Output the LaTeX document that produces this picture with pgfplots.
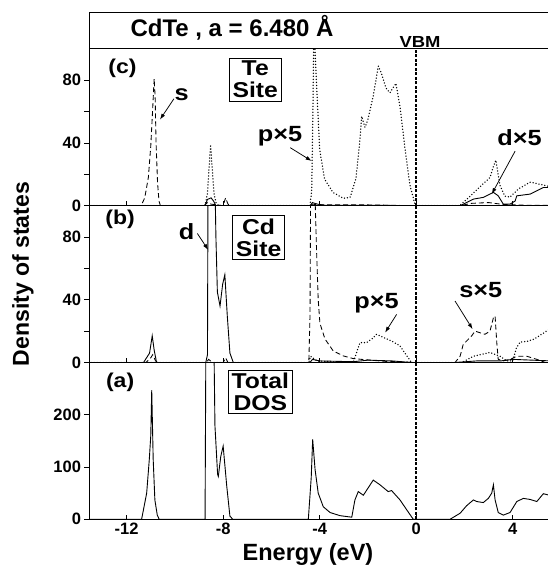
\documentclass[border=0pt]{standalone}
\usepackage{pgfplots}
\pgfplotsset{compat=1.18}
\usepackage{fontspec}
\setmainfont{Liberation Sans}
\newfontfamily\wide{Liberation Sans}[FakeStretch=1.15]
\usetikzlibrary{arrows.meta}
\newcommand{\fs}[1]{\fontsize{#1}{#1}\selectfont\bfseries}
\newcommand{\fw}[1]{\wide\fontsize{#1}{#1}\selectfont\bfseries}
\newcommand{\fww}[2]{\wide\fontsize{#1}{#2}\selectfont\bfseries}
\tikzset{
 sline/.style={black, line width=0.85pt, dash pattern=on 5pt off 3pt},
 pline/.style={black, line width=1.5pt, dash pattern=on 0pt off 3pt, line cap=round},
 dline/.style={black, line width=0.9pt},
 vbm/.style={black, line width=1.5pt, dash pattern=on 3pt off 1.5pt},
 arr/.style={-{Latex[length=6pt,width=4pt]}, line width=0.75pt},
 boxl/.style={draw, line width=0.9pt, align=center, font=\fww{21.5}{22}, inner xsep=3.5pt, inner ysep=3pt, fill=white},
}
\pgfplotsset{
 dosaxis/.style={
  scale only axis, width=460.5pt, height=156.8pt,
  xmin=-13.56, xmax=5.525,
  xtick={-12,-8,-4,0,4},
  xtick align=inside, ytick align=outside,
  xtick pos=left, ytick pos=left,
  major tick length=4.5pt, minor tick length=4.5pt,
  axis line style={line width=0.9pt},
  every tick/.style={line width=0.8pt, black},
  /pgf/number format/assume math mode=true,
  ticklabel style={font=\fs{16.5}},
  anchor=south west,
 },
}
\begin{document}
\begin{tikzpicture}
\useasboundingbox (0,0) rectangle (548pt,566pt);
% ---------- (a) Total DOS
\begin{axis}[dosaxis, at={(89pt,46.7pt)}, ymin=0, ymax=300, ytick={0,100,200}]
\addplot[dline] coordinates {(-13.6,0)(-11.38,0)(-11.17,50)(-11.06,115)(-11.0,160)(-10.96,247)(-10.9,115)(-10.83,37)(-10.73,8)(-10.65,0)(-8.75,0)(-8.71,400)(-8.6,450)(-8.4,400)(-8.34,179)(-8.23,86)(-8.2,82)(-8.1,120)(-8.0,140)(-7.85,63)(-7.72,6)(-7.6,0)(-4.47,0)(-4.35,80)(-4.29,153)(-4.19,95)(-4.06,50)(-3.85,24)(-3.57,13)(-3.16,7)(-2.67,4)(-2.54,37)(-2.4,53)(-2.19,46)(-1.78,75)(-1.5,66)(-1.16,53)(-1.02,55)(-0.67,37)(-0.39,18)(-0.12,0)(1.4,0)(1.82,11.6)(2.09,26)(2.37,37)(2.51,34)(2.78,32)(2.99,40)(3.13,50)(3.2,66)(3.27,37)(3.4,13)(3.61,8)(3.89,13)(4.17,34)(4.44,40)(4.72,38)(5.0,34)(5.27,49)(5.6,45)};
\addplot[vbm] coordinates {(0,0)(0,300)};
\node[font=\fw{20}] at (axis cs:-12.27,263) {(a)};
\node[boxl] at (axis cs:-6.46,243.7) {Total\\DOS};
\end{axis}
% ---------- (b) Cd site
\begin{axis}[dosaxis, at={(89pt,203.5pt)}, ymin=0, ymax=100, ytick={0,40,80}, minor ytick={20,60}, xticklabels={}]
\addplot[dline] coordinates {(-13.6,0)(-11.3,0)(-11.05,6)(-10.94,17)(-10.86,8)(-10.76,0)(-8.72,0)(-8.65,5)(-8.62,150)(-8.5,160)(-8.38,150)(-8.3,80)(-8.24,45)(-8.13,36)(-8.02,50)(-7.93,56)(-7.83,30)(-7.72,6)(-7.58,0)(-4.4,0)(-4.3,2)(-4.0,1)(-2.6,0.5)(-2.0,1.5)(-1.0,1)(-0.2,0)(0,0)(1.6,0)(2.5,1)(3.5,1)(4.0,2)(5.6,1)};
\addplot[sline] coordinates {(-13.6,0)(-11.2,0)(-11.0,3)(-10.92,5)(-10.8,1)(-10.7,0)(-8.7,0)(-8.6,2)(-8.45,0)(-8.0,0)(-7.9,3)(-7.8,0)(-4.45,0)(-4.4,30)(-4.36,160)(-4.27,160)(-4.2,110)(-4.13,72)(-4.06,40)(-3.99,25)(-3.78,15)(-3.44,7.4)(-3.02,4.2)(-2.61,2.5)(-2.05,1.7)(-1.36,0.8)(-0.5,0.3)(0,0)(1.61,0)(1.82,4)(1.95,11.6)(2.09,13.7)(2.3,17)(2.44,20)(2.64,19)(2.85,18)(3.06,20)(3.2,28.6)(3.27,29.6)(3.34,12.7)(3.4,2)(3.6,1)(3.9,2)(4.17,4)(4.58,4)(5.0,2)(5.35,0)(5.6,0)};
\addplot[pline] coordinates {(-13.6,0)(-4.45,0)(-4.38,4)(-4.3,3)(-4.1,1)(-3.5,0.5)(-2.61,0)(-2.47,6.4)(-2.33,12.7)(-2.05,12.7)(-1.84,15)(-1.64,18)(-1.36,16)(-1.02,13.7)(-0.67,10.6)(-0.39,4.2)(-0.19,0)(1.9,0)(2.37,4)(3.06,6.4)(3.47,4)(3.75,1)(4.0,1)(4.15,9)(4.3,13)(4.6,13.5)(4.9,15)(5.2,18)(5.6,22)};
\addplot[vbm] coordinates {(0,0)(0,100)};
\node[font=\fw{20}] at (axis cs:-12.27,91) {(b)};
\node[boxl] at (axis cs:-6.53,79.7) {Cd\\Site};
\node[font=\fw{22}] at (axis cs:-9.51,83.5) {d};
\draw[arr] (axis cs:-9.07,82.3) -- (axis cs:-8.62,71.8);
\node[font=\fw{22}] at (axis cs:-1.64,38) {p×5};
\draw[arr] (axis cs:-0.81,30.7) -- (axis cs:-1.29,19);
\node[font=\fw{22}] at (axis cs:2.68,46.3) {s×5};
\draw[arr] (axis cs:1.61,39.2) -- (axis cs:2.34,21.2);
\end{axis}
% ---------- (c) Te site
\begin{axis}[dosaxis, at={(89pt,360.3pt)}, ymin=0, ymax=100, ytick={0,40,80}, minor ytick={20,60}, xticklabels={}]
\addplot[dline] coordinates {(-13.6,0)(-8.75,0)(-8.65,4)(-8.5,5)(-8.4,3)(-8.3,0)(-4.4,0)(-4.3,2)(-4.1,1)(-3.8,0.3)(-2,0.3)(0,0)(1.82,0)(2.37,4.2)(2.78,5.3)(3.06,7.4)(3.2,8.5)(3.4,6.3)(3.61,1)(3.89,1)(4.1,3)(4.17,6.3)(4.72,7.4)(5.27,11.6)(5.6,11.6)};
\addplot[sline] coordinates {(-13.6,0)(-11.4,0)(-11.25,5)(-11.1,18)(-11.0,38)(-10.92,62)(-10.86,81)(-10.82,70)(-10.78,40)(-10.72,15)(-10.66,3)(-10.6,0)(-8.8,0)(-8.65,2)(-8.5,1)(-8.0,0)(-7.9,5)(-7.8,1)(-7.7,0)(-4.4,0)(-4.3,1)(-4.0,0.5)(-2,0.5)(0,0)(1.8,0)(2.3,1.5)(3.0,2)(3.6,0.8)(4.5,0.3)(5.6,0.2)};
\addplot[pline] coordinates {(-13.6,0)(-8.75,0)(-8.65,8)(-8.58,25)(-8.52,39)(-8.46,25)(-8.38,8)(-8.3,2)(-8.2,0)(-4.4,0)(-4.33,10)(-4.28,60)(-4.24,115)(-4.18,95)(-4.12,74)(-4.0,36)(-3.8,17)(-3.45,8.5)(-3.02,4.7)(-2.74,5.3)(-2.5,17)(-2.33,42)(-2.26,57)(-2.12,50)(-2.0,55)(-1.78,70)(-1.57,89)(-1.43,84)(-1.25,75)(-1.09,72)(-0.84,78)(-0.67,63)(-0.46,36)(-0.26,13)(-0.05,1)(0,0)(1.8,0)(2.23,6)(2.64,12)(3.06,18)(3.2,25)(3.3,29)(3.47,13)(3.68,6)(3.89,5.5)(4.23,10.6)(4.72,15)(5.13,13.7)(5.6,12)};
\addplot[vbm] coordinates {(0,0)(0,100)};
\node[font=\fw{20}] at (axis cs:-12.17,87.6) {(c)};
\node[boxl] at (axis cs:-6.67,80.5) {Te\\Site};
\node[font=\fw{22}] at (axis cs:-9.72,70.7) {s};
\draw[arr] (axis cs:-10.04,68.2) -- (axis cs:-10.62,54.9);
\node[font=\fw{22}] at (axis cs:-5.64,44.3) {p×5};
\draw[arr] (axis cs:-5.22,37) -- (axis cs:-4.33,28.5);
\node[font=\fw{22}] at (axis cs:4.28,43.3) {d×5};
\draw[arr] (axis cs:4.1,34.8) -- (axis cs:3.13,7.4);
\end{axis}
% title box
\draw[line width=0.9pt] (89pt,517.1pt) rectangle (549.5pt,554pt);
\node[font=\fs{24}] at (232pt,538pt) {CdTe , a = 6.480 Å};
\node[font=\fw{16}] at (420pt,524.5pt) {VBM};
\node[font=\fs{23}, rotate=90] at (23pt,292pt) {Density of states};
\node[font=\fs{23.5}] at (308pt,12pt) {Energy (eV)};
\end{tikzpicture}
\end{document}
